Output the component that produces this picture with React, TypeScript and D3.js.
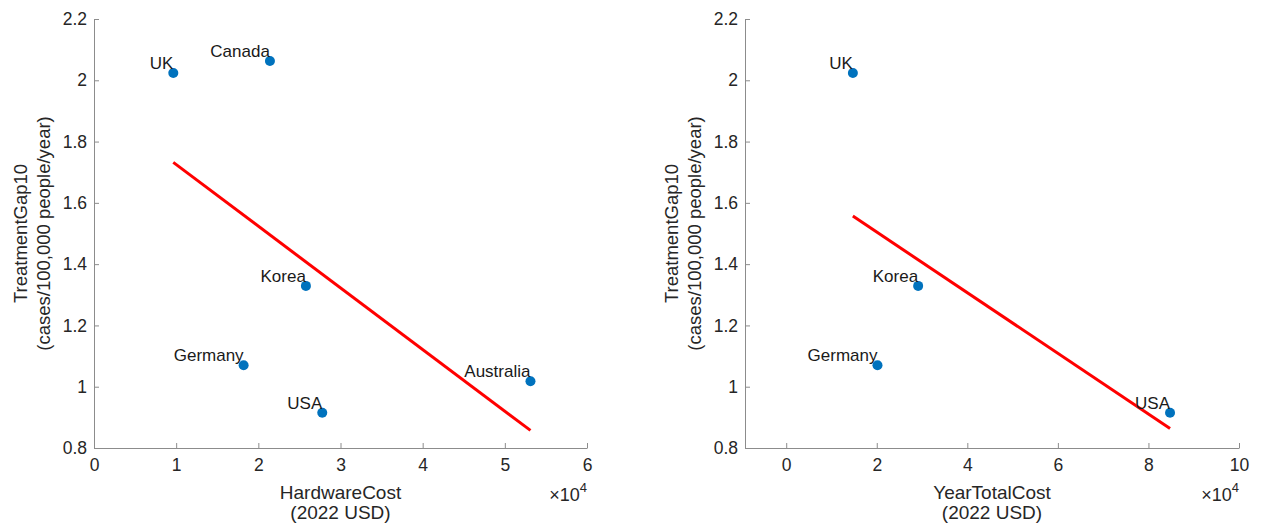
import React, { useRef, useEffect } from "react";
import * as d3 from "d3";

// Panel 1: HardwareCost vs TreatmentGap10
const hwCountries = ["UK", "Canada", "Korea", "Germany", "USA", "Australia"];
const hwCost = [9650, 21410, 25790, 18210, 27780, 53120];
const hwGap = [2.024, 2.063, 1.329, 1.07, 0.915, 1.018];

// Panel 2: YearTotalCost vs TreatmentGap10
const ytCountries = ["UK", "Korea", "Germany", "USA"];
const ytCost = [14720, 29140, 20160, 84770];
const ytGap = [2.024, 1.329, 1.07, 0.915];

const hwTicks = [0, 10000, 20000, 30000, 40000, 50000, 60000];
const ytTicks = [0, 20000, 40000, 60000, 80000, 100000];
const gapTicks = [0.8, 1, 1.2, 1.4, 1.6, 1.8, 2, 2.2];

const W = 1263;
const H = 528;
const FONT = "'Liberation Sans', Arial, Helvetica, sans-serif";

// least squares fit, like MATLAB's lsline / polyfit
function fitLine(xs: number[], ys: number[]) {
  const mx = d3.mean(xs) as number;
  const my = d3.mean(ys) as number;
  let sxy = 0;
  let sxx = 0;
  xs.forEach((x, i) => {
    sxy += (x - mx) * (ys[i] - my);
    sxx += (x - mx) * (x - mx);
  });
  const b = sxy / sxx;
  const x0 = d3.min(xs) as number;
  const x1 = d3.max(xs) as number;
  return [
    { x: x0, y: my + b * (x0 - mx) },
    { x: x1, y: my + b * (x1 - mx) },
  ];
}

export default function App() {
  const ref = useRef<SVGSVGElement>(null);

  useEffect(() => {
    const svg = d3.select(ref.current);
    svg.selectAll("*").remove();
    svg.append("rect").attr("width", W).attr("height", H).attr("fill", "white");

    const panels = [
      {
        left: 94,
        right: 587,
        xDomain: [0, 60000],
        ticks: hwTicks,
        names: hwCountries,
        xs: hwCost,
        ys: hwGap,
        xLabel: "HardwareCost",
      },
      {
        left: 745,
        right: 1239,
        xDomain: [-9100, 100000],
        ticks: ytTicks,
        names: ytCountries,
        xs: ytCost,
        ys: ytGap,
        xLabel: "YearTotalCost",
      },
    ];

    const top = 19;
    const bottom = 448;

    panels.forEach((p) => {
      const x = d3.scaleLinear().domain(p.xDomain).range([p.left, p.right]);
      const y = d3.scaleLinear().domain([0.8, 2.2]).range([bottom, top]);
      const g = svg.append("g");

      // axes
      const xAxis = d3
        .axisBottom(x)
        .tickValues(p.ticks)
        .tickSizeInner(-5)
        .tickSizeOuter(0)
        .tickPadding(11)
        .tickFormat((d) => String(+d / 10000));
      const yAxis = d3
        .axisLeft(y)
        .tickValues(gapTicks)
        .tickSizeInner(-5)
        .tickSizeOuter(0)
        .tickPadding(7)
        .tickFormat((d) => String(+(+d).toFixed(1)));

      [
        g.append("g").attr("transform", `translate(0,${bottom})`).call(xAxis),
        g.append("g").attr("transform", `translate(${p.left},0)`).call(yAxis),
      ].forEach((ax) => {
        ax.select(".domain").attr("stroke", "#8c8c8c");
        ax.selectAll(".tick line").attr("stroke", "#8c8c8c");
        ax.selectAll(".tick text")
          .attr("fill", "#262626")
          .style("font-family", FONT)
          .style("font-size", "17.5px");
      });

      // x10^4 multiplier
      const mult = g
        .append("text")
        .attr("x", p.right)
        .attr("y", 501)
        .attr("text-anchor", "end")
        .attr("fill", "#262626")
        .style("font-family", FONT)
        .style("font-size", "18px");
      mult.append("tspan").text("\u00d710");
      mult.append("tspan").attr("dy", -9).style("font-size", "13px").text("4");

      // axis labels
      const cx = (p.left + p.right) / 2;
      [p.xLabel, "(2022 USD)"].forEach((t, i) => {
        g.append("text")
          .attr("x", cx)
          .attr("y", 499 + i * 20)
          .attr("text-anchor", "middle")
          .attr("fill", "#262626")
          .style("font-family", FONT)
          .style("font-size", "19px")
          .text(t);
      });
      const cy = (top + bottom) / 2;
      ["TreatmentGap10", "(cases/100,000 people/year)"].forEach((t, i) => {
        g.append("text")
          .attr("transform", `translate(${p.left - 67 + i * 23},${cy}) rotate(-90)`)
          .attr("text-anchor", "middle")
          .attr("fill", "#262626")
          .style("font-family", FONT)
          .style("font-size", "18.5px")
          .text(t);
      });

      // fit line
      const fit = fitLine(p.xs, p.ys);
      g.append("path")
        .datum(fit)
        .attr(
          "d",
          d3
            .line<{ x: number; y: number }>()
            .x((d) => x(d.x))
            .y((d) => y(d.y))
        )
        .attr("stroke", "#ff0000")
        .attr("stroke-width", 3)
        .attr("fill", "none");

      // points + labels
      p.xs.forEach((v, i) => {
        g.append("circle")
          .attr("cx", x(v))
          .attr("cy", y(p.ys[i]))
          .attr("r", 5)
          .attr("fill", "#0072bd");
        g.append("text")
          .attr("x", x(v))
          .attr("y", y(p.ys[i]) - 4)
          .attr("text-anchor", "end")
          .attr("fill", "#1a1a1a")
          .style("font-family", FONT)
          .style("font-size", "17px")
          .text(p.names[i]);
      });
    });
  }, []);

  return (
    <svg
      ref={ref}
      width={W}
      height={H}
      style={{ position: "absolute", left: 0, top: 0 }}
    />
  );
}
